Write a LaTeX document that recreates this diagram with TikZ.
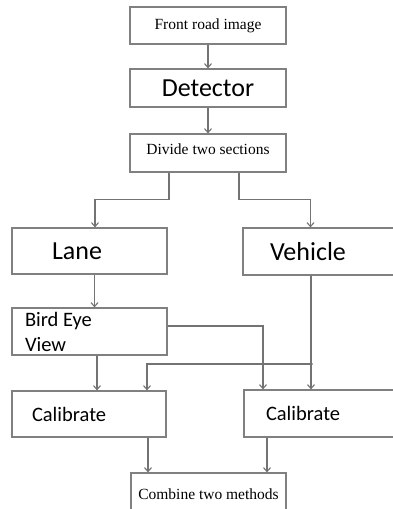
\documentclass[tikz,border=0pt]{standalone}
\usepackage{fontspec}
\setmainfont{Liberation Serif}
\newfontfamily\calibri{Carlito}
\usetikzlibrary{arrows.meta}

\tikzset{
  box/.style={draw=black!50, line width=1.2pt, rectangle, inner sep=0pt},
  serifbox/.style={box, font=\fontsize{15.5}{18}\selectfont},
  bigbox/.style={box, font=\calibri\fontsize{26}{30}\selectfont},
  midbox/.style={box, font=\calibri\fontsize{20.5}{25}\selectfont, align=flush left},
  arr/.style={draw=black!55, line width=1.1pt, -{Straight Barb[length=4pt,width=7pt]}},
  wire/.style={draw=black!55, line width=1.1pt}
}

\begin{document}
\begin{tikzpicture}[x=1pt, y=-1pt]
    \path[use as bounding box, clip] (0,0) rectangle (393,509);

    % Haut
    \node[serifbox, minimum width=156pt, minimum height=37pt] (front) at (208,25.5) {Front road image};
    \node[bigbox, minimum width=156pt, minimum height=38pt] (detect) at (208,88) {Detector};
    \node[serifbox, minimum width=156pt, minimum height=38pt, text depth=8pt] (divide) at (208,153) {Divide two sections};

    % Deux branches
    \node[bigbox, minimum width=155pt, minimum height=46pt, inner xsep=40pt, text width=75pt] (lane) at (89.5,251) {Lane};
    \node[bigbox, minimum width=177pt, minimum height=47pt, inner xsep=27pt, text width=123pt] (vehicle) at (331.5,251.5) {Vehicle};
    \node[midbox, minimum width=155pt, minimum height=47pt, inner xsep=13pt, text width=129pt] (bird) at (89.5,331.5) {Bird Eye\\View};
    \node[midbox, minimum width=154pt, minimum height=46pt, inner xsep=20pt, text width=114pt] (calL) at (89,414) {Calibrate};
    \node[midbox, minimum width=176pt, minimum height=47pt, inner xsep=22pt, text width=132pt] (calR) at (332,413.5) {Calibrate};

    % Bas
    \node[serifbox, minimum width=155pt, minimum height=42pt] (combine) at (208.5,494) {Combine two methods};

    % Fleches
    \draw[arr] (front) -- (detect);
    \draw[arr] (detect) -- (divide);
    \draw[arr] ([xshift=-39pt]divide.south) -- ++(0,27) -| ([xshift=5.5pt]lane.north);
    \draw[arr] ([xshift=31pt]divide.south) -- ++(0,27) -| ([xshift=-21pt]vehicle.north);
    \draw[arr] ([xshift=5pt]lane.south) -- ([xshift=5pt]lane.south |- bird.north);
    \draw[arr] ([xshift=7.5pt]bird.south) -- ([xshift=7.5pt]bird.south |- calL.north);
    \draw[arr] ([yshift=5.5pt]bird.east) -| ([xshift=-69pt]calR.north);
    \draw[arr] ([xshift=-20.5pt]vehicle.south) -- ([xshift=-20.5pt]vehicle.south |- calR.north);

    % Point de jonction
    \coordinate (split) at ([xshift=-20.5pt]vehicle.south |- 0,364);
    \filldraw[black!55] (split) circle (1.5pt);
    \draw[arr] (split) -| ([xshift=58pt]calL.north);

    \draw[arr] ([xshift=59pt]calL.south) -- ([xshift=59pt]calL.south |- combine.north);
    \draw[arr] ([xshift=-65pt]calR.south) -- ([xshift=-65pt]calR.south |- combine.north);
\end{tikzpicture}
\end{document}
